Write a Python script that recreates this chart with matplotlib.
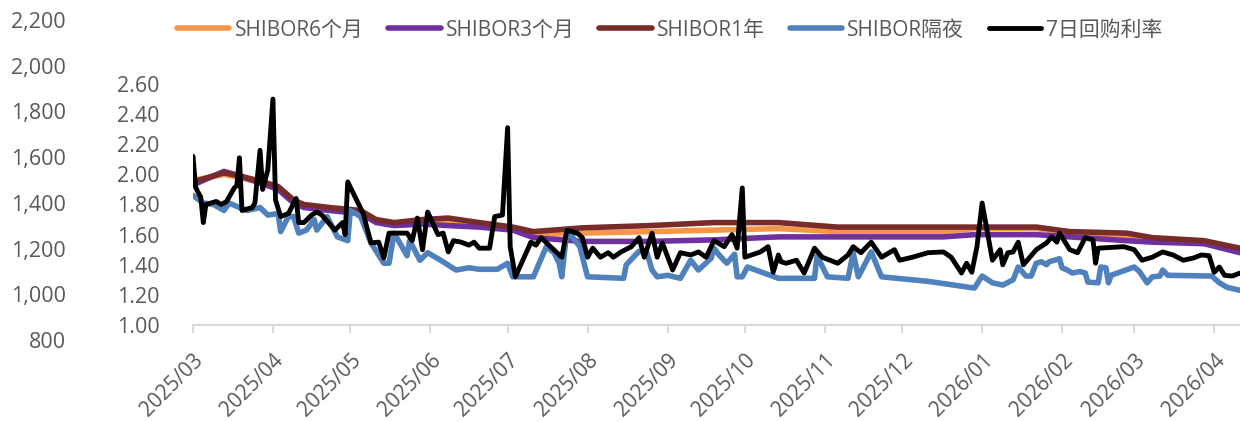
import pandas as pd
import matplotlib
matplotlib.use('Agg')
import matplotlib.pyplot as plt
import matplotlib.dates as mdates

plt.rcParams['font.family'] = ['Open Sans', 'Noto Sans CJK SC', 'DejaVu Sans']

# term rates
term_dates = ['2025-03-01', '2025-03-13', '2025-03-19', '2025-03-26', '2025-04-03', '2025-04-09',
              '2025-04-13', '2025-04-23', '2025-05-05', '2025-05-11', '2025-05-18', '2025-05-29',
              '2025-06-08', '2025-06-20', '2025-07-03', '2025-07-11', '2025-07-30', '2025-08-25',
              '2025-09-19', '2025-10-14', '2025-11-06', '2025-12-04', '2025-12-17', '2025-12-29',
              '2026-01-22', '2026-02-04', '2026-02-26', '2026-03-08', '2026-03-28', '2026-04-11']
shibor_6m = [1.96, 2.00, 1.98, 1.95, 1.91, 1.82, 1.79, 1.77, 1.75, 1.69, 1.67, 1.69,
             1.69, 1.665, 1.64, 1.60, 1.61, 1.62, 1.63, 1.64, 1.62, 1.62, 1.62, 1.64,
             1.64, 1.61, 1.59, 1.57, 1.54, 1.505]
shibor_3m = [1.93, 2.02, 1.99, 1.95, 1.90, 1.81, 1.78, 1.76, 1.74, 1.68, 1.66, 1.67,
             1.66, 1.65, 1.63, 1.58, 1.555, 1.555, 1.565, 1.585, 1.585, 1.585, 1.585, 1.60,
             1.60, 1.585, 1.56, 1.55, 1.54, 1.48]
shibor_1y = [1.95, 2.01, 1.99, 1.96, 1.92, 1.83, 1.80, 1.78, 1.76, 1.70, 1.68, 1.70,
             1.71, 1.68, 1.65, 1.62, 1.645, 1.66, 1.68, 1.68, 1.65, 1.65, 1.65, 1.65,
             1.65, 1.62, 1.61, 1.58, 1.56, 1.51]

# overnight
shibor_on = [
    ('2025-03-01', 1.86), ('2025-03-05', 1.81), ('2025-03-09', 1.80), ('2025-03-13', 1.76),
    ('2025-03-15', 1.81), ('2025-03-19', 1.78), ('2025-03-22', 1.76), ('2025-03-27', 1.78),
    ('2025-03-30', 1.73), ('2025-04-03', 1.74), ('2025-04-04', 1.62), ('2025-04-07', 1.72),
    ('2025-04-09', 1.72), ('2025-04-11', 1.61), ('2025-04-14', 1.63), ('2025-04-17', 1.70),
    ('2025-04-18', 1.63), ('2025-04-22', 1.72), ('2025-04-26', 1.585), ('2025-04-30', 1.56),
    ('2025-05-01', 1.76), ('2025-05-05', 1.72), ('2025-05-09', 1.545), ('2025-05-14', 1.41),
    ('2025-05-16', 1.41), ('2025-05-18', 1.61), ('2025-05-23', 1.46), ('2025-05-24', 1.56),
    ('2025-05-28', 1.43), ('2025-05-31', 1.48), ('2025-06-05', 1.43), ('2025-06-11', 1.365),
    ('2025-06-16', 1.38), ('2025-06-20', 1.37), ('2025-06-27', 1.37), ('2025-07-01', 1.41),
    ('2025-07-03', 1.32), ('2025-07-11', 1.32), ('2025-07-16', 1.52), ('2025-07-19', 1.48),
    ('2025-07-21', 1.41), ('2025-07-22', 1.32), ('2025-07-24', 1.63), ('2025-07-29', 1.52),
    ('2025-08-01', 1.32), ('2025-08-15', 1.31), ('2025-08-16', 1.40), ('2025-08-21', 1.49),
    ('2025-08-24', 1.48), ('2025-08-26', 1.365), ('2025-08-28', 1.32), ('2025-09-01', 1.33),
    ('2025-09-06', 1.31), ('2025-09-10', 1.43), ('2025-09-13', 1.365), ('2025-09-18', 1.445),
    ('2025-09-19', 1.51), ('2025-09-21', 1.465), ('2025-09-24', 1.41), ('2025-09-27', 1.47),
    ('2025-09-28', 1.32), ('2025-09-30', 1.32), ('2025-10-02', 1.385), ('2025-10-14', 1.31),
    ('2025-10-28', 1.31), ('2025-10-29', 1.46), ('2025-11-02', 1.32), ('2025-11-10', 1.31),
    ('2025-11-12', 1.48), ('2025-11-14', 1.32), ('2025-11-19', 1.485), ('2025-11-23', 1.32),
    ('2025-11-29', 1.31), ('2025-12-11', 1.29), ('2025-12-19', 1.27), ('2025-12-29', 1.245),
    ('2026-01-01', 1.325), ('2026-01-05', 1.28), ('2026-01-09', 1.265), ('2026-01-13', 1.30),
    ('2026-01-15', 1.385), ('2026-01-18', 1.325), ('2026-01-20', 1.325), ('2026-01-22', 1.41),
    ('2026-01-24', 1.42), ('2026-01-26', 1.40), ('2026-01-27', 1.42), ('2026-01-31', 1.44),
    ('2026-02-01', 1.38), ('2026-02-03', 1.365), ('2026-02-05', 1.345), ('2026-02-08', 1.355),
    ('2026-02-10', 1.345), ('2026-02-11', 1.285), ('2026-02-15', 1.28), ('2026-02-16', 1.385),
    ('2026-02-18', 1.38), ('2026-02-19', 1.28), ('2026-02-20', 1.33), ('2026-03-01', 1.385),
    ('2026-03-03', 1.355), ('2026-03-06', 1.28), ('2026-03-08', 1.32), ('2026-03-11', 1.325),
    ('2026-03-12', 1.365), ('2026-03-14', 1.33), ('2026-03-31', 1.325), ('2026-04-03', 1.28),
    ('2026-04-06', 1.25), ('2026-04-11', 1.23),
]

# 7-day repo
repo_7d = [
    ('2025-03-01', 2.12), ('2025-03-02', 1.915), ('2025-03-03', 1.88), ('2025-03-04', 1.85),
    ('2025-03-05', 1.68), ('2025-03-06', 1.80), ('2025-03-10', 1.82), ('2025-03-12', 1.80),
    ('2025-03-14', 1.82), ('2025-03-17', 1.91), ('2025-03-18', 1.925), ('2025-03-19', 2.11),
    ('2025-03-20', 1.76), ('2025-03-24', 1.78), ('2025-03-25', 1.81), ('2025-03-27', 2.16),
    ('2025-03-28', 1.90), ('2025-03-30', 2.03), ('2025-04-01', 2.50), ('2025-04-02', 1.83),
    ('2025-04-04', 1.72), ('2025-04-07', 1.74), ('2025-04-10', 1.84), ('2025-04-11', 1.68),
    ('2025-04-13', 1.68), ('2025-04-16', 1.73), ('2025-04-18', 1.75), ('2025-04-20', 1.73),
    ('2025-04-25', 1.63), ('2025-04-28', 1.68), ('2025-04-29', 1.60), ('2025-04-30', 1.95),
    ('2025-05-06', 1.74), ('2025-05-09', 1.545), ('2025-05-12', 1.55), ('2025-05-14', 1.445),
    ('2025-05-16', 1.61), ('2025-05-23', 1.61), ('2025-05-25', 1.56), ('2025-05-27', 1.71),
    ('2025-05-29', 1.50), ('2025-05-31', 1.75), ('2025-06-04', 1.60), ('2025-06-06', 1.61),
    ('2025-06-08', 1.485), ('2025-06-10', 1.56), ('2025-06-13', 1.55), ('2025-06-16', 1.53),
    ('2025-06-18', 1.55), ('2025-06-20', 1.51), ('2025-06-24', 1.51), ('2025-06-26', 1.72),
    ('2025-06-29', 1.73), ('2025-07-01', 2.31), ('2025-07-02', 1.52), ('2025-07-04', 1.32),
    ('2025-07-09', 1.51), ('2025-07-10', 1.55), ('2025-07-12', 1.53), ('2025-07-14', 1.58),
    ('2025-07-17', 1.53), ('2025-07-22', 1.45), ('2025-07-24', 1.63), ('2025-07-28', 1.61),
    ('2025-07-30', 1.58), ('2025-08-01', 1.45), ('2025-08-03', 1.51), ('2025-08-06', 1.45),
    ('2025-08-09', 1.48), ('2025-08-11', 1.45), ('2025-08-14', 1.485), ('2025-08-18', 1.52),
    ('2025-08-21', 1.58), ('2025-08-23', 1.45), ('2025-08-26', 1.61), ('2025-08-28', 1.45),
    ('2025-08-30', 1.545), ('2025-09-03', 1.365), ('2025-09-06', 1.48), ('2025-09-10', 1.465),
    ('2025-09-13', 1.485), ('2025-09-16', 1.45), ('2025-09-19', 1.56), ('2025-09-23', 1.52),
    ('2025-09-26', 1.60), ('2025-09-28', 1.51), ('2025-09-30', 1.91), ('2025-10-01', 1.45),
    ('2025-10-07', 1.485), ('2025-10-10', 1.52), ('2025-10-12', 1.35), ('2025-10-14', 1.465),
    ('2025-10-15', 1.42), ('2025-10-17', 1.41), ('2025-10-21', 1.43), ('2025-10-24', 1.345),
    ('2025-10-28', 1.51), ('2025-10-31', 1.45), ('2025-11-06', 1.41), ('2025-11-10', 1.465),
    ('2025-11-12', 1.52), ('2025-11-15', 1.48), ('2025-11-19', 1.55), ('2025-11-23', 1.45),
    ('2025-11-28', 1.50), ('2025-11-30', 1.43), ('2025-12-05', 1.45), ('2025-12-11', 1.48),
    ('2025-12-17', 1.485), ('2025-12-20', 1.45), ('2025-12-24', 1.345), ('2025-12-26', 1.41),
    ('2025-12-28', 1.35), ('2025-12-30', 1.52), ('2026-01-01', 1.81), ('2026-01-05', 1.43),
    ('2026-01-08', 1.50), ('2026-01-09', 1.40), ('2026-01-11', 1.48), ('2026-01-13', 1.485),
    ('2026-01-15', 1.55), ('2026-01-17', 1.40), ('2026-01-22', 1.50), ('2026-01-26', 1.545),
    ('2026-01-28', 1.585), ('2026-01-30', 1.55), ('2026-01-31', 1.61), ('2026-02-04', 1.50),
    ('2026-02-07', 1.48), ('2026-02-10', 1.58), ('2026-02-13', 1.565), ('2026-02-14', 1.41),
    ('2026-02-15', 1.51), ('2026-02-25', 1.52), ('2026-03-01', 1.50), ('2026-03-04', 1.43),
    ('2026-03-08', 1.45), ('2026-03-12', 1.485), ('2026-03-16', 1.465), ('2026-03-20', 1.43),
    ('2026-03-24', 1.445), ('2026-03-27', 1.465), ('2026-03-30', 1.46), ('2026-04-01', 1.35),
    ('2026-04-03', 1.385), ('2026-04-05', 1.33), ('2026-04-08', 1.325), ('2026-04-11', 1.345),
]

labels = ['SHIBOR6个月', 'SHIBOR3个月', 'SHIBOR1年', 'SHIBOR隔夜', '7日回购利率']
colors = ['#F79646', '#7030A0', '#772C2A', '#4F81BD', '#000000']
left_ticks = [800, 1000, 1200, 1400, 1600, 1800, 2000, 2200]

txt_color = '#595959'
W, H = 1240, 422

fig = plt.figure(figsize=(W / 100, H / 100), dpi=100)

# leftover empty axis on the far left (800 - 2,200)
ax0 = fig.add_axes([70 / W, 1 - 340 / H, 0.01, 320 / H])
ax0.set_ylim(800, 2200)
ax0.set_yticks(left_ticks)
ax0.set_yticklabels(['{:,}'.format(v) for v in left_ticks])
ax0.set_xticks([])
ax0.patch.set_visible(False)
for s in ax0.spines.values():
    s.set_visible(False)
ax0.tick_params(axis='y', length=0, pad=3, labelsize=15.5, labelcolor=txt_color)

# main axis
ax = fig.add_axes([193 / W, 1 - 325 / H, 1 - 193 / W, (325 - 84) / H])
td = pd.to_datetime(term_dates)
on_d = pd.to_datetime([d for d, v in shibor_on])
rp_d = pd.to_datetime([d for d, v in repo_7d])

ax.plot(td, shibor_6m, color=colors[0], lw=4.0, label=labels[0], solid_capstyle='round')
ax.plot(td, shibor_3m, color=colors[1], lw=4.0, label=labels[1], solid_capstyle='round')
ax.plot(td, shibor_1y, color=colors[2], lw=4.0, label=labels[2], solid_capstyle='round')
ax.plot(on_d, [v for d, v in shibor_on], color=colors[3], lw=4.0, label=labels[3],
        solid_capstyle='round')
ax.plot(rp_d, [v for d, v in repo_7d], color=colors[4], lw=3.5, label=labels[4],
        solid_capstyle='round')

ax.set_ylim(1.0, 2.6)
ax.set_yticks([1.0, 1.2, 1.4, 1.6, 1.8, 2.0, 2.2, 2.4, 2.6])
ax.yaxis.set_major_formatter(plt.FormatStrFormatter('%.2f'))
ax.set_xlim(pd.Timestamp('2025-03-01'), pd.Timestamp('2026-04-11'))
ax.xaxis.set_major_locator(mdates.MonthLocator())
ax.xaxis.set_major_formatter(mdates.DateFormatter('%Y/%m'))

for k in ['top', 'right', 'left']:
    ax.spines[k].set_visible(False)
ax.spines['bottom'].set_color('#D9D9D9')
ax.spines['bottom'].set_linewidth(1.5)
ax.tick_params(axis='y', length=0, pad=24, labelsize=15.5, labelcolor=txt_color)
ax.tick_params(axis='x', length=6, width=1.5, color='#D9D9D9', pad=12,
               labelsize=15, labelcolor=txt_color)
for t in ax.get_xticklabels():
    t.set_rotation(45)
    t.set_ha('right')
    t.set_va('top')
    t.set_rotation_mode('anchor')
ax.patch.set_visible(False)

fig.legend(loc='center', bbox_to_anchor=(670 / W, 1 - 30 / H), ncol=5, frameon=False,
           fontsize=15, labelcolor=txt_color, handlelength=2.5, handletextpad=0.25,
           columnspacing=1.2)

fig.savefig('out.png', dpi=100)
